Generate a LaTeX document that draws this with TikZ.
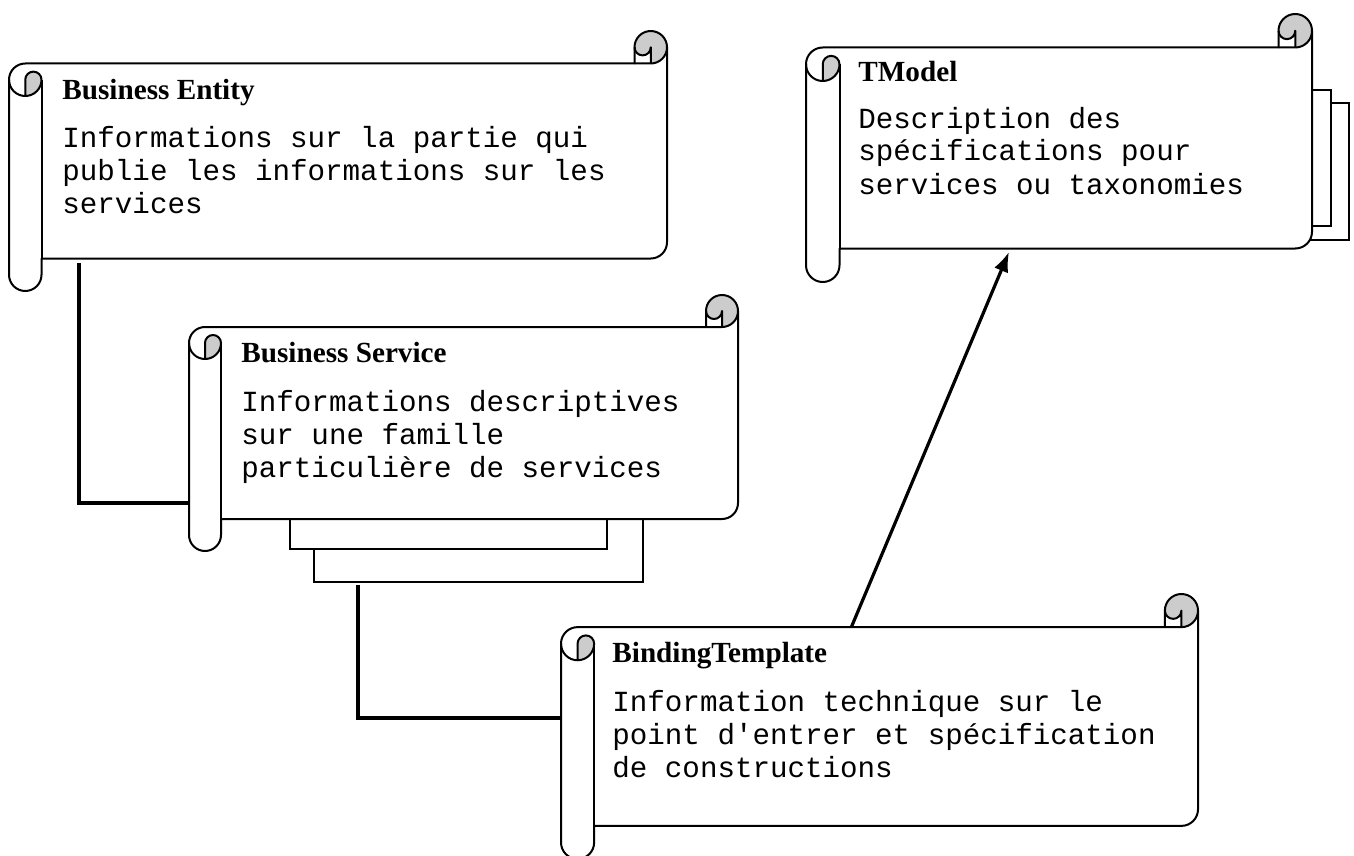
\documentclass[tikz,border=0pt]{standalone}
\usepackage{fontspec}
\setmainfont{Liberation Serif}
\newfontfamily\courierfont{Liberation Mono}
\usetikzlibrary{calc,fit,arrows.meta}

\definecolor{rollgray}{RGB}{204,204,204}

\tikzset{
  scrollline/.style={line width=1pt, line join=round},
  rollshade/.style={fill=rollgray},
  backsheet/.style={draw, fill=white, line width=0.85pt, inner sep=0pt},
  link/.style={line width=1.65pt},
  arrowlink/.style={line width=1.6pt, -{Latex[length=10pt,width=7.5pt]}},
  titletext/.style={font=\fontsize{14.6}{16.5}\selectfont\bfseries, inner sep=0pt, anchor=base west},
  bodytext/.style={font=\fontsize{14.6}{16.5}\selectfont\courierfont, inner sep=0pt, anchor=base west},
}

% scroll: name, left, top, right, bottom (pixels, y going down)
\newcommand{\scrollshape}[5]{%
  \pgfmathsetmacro{\ch}{0.125*(#5-#3)}%
  \pgfmathsetmacro{\hr}{\ch/2}%
  \pgfmathsetmacro{\qr}{\ch/4}%
  \def\scrollpath{(#2,#3+\ch+\hr) arc (180:270:\hr) -- (#4-\ch,#3+\ch) -- (#4-\ch,#3+\hr)
    arc (180:360:\hr) -- (#4,#5-\ch-\hr) arc (0:90:\hr) -- (#2+\ch,#5-\ch) -- (#2+\ch,#5-\hr)
    arc (0:180:\hr) -- cycle}%
  \fill[white] \scrollpath;
  \fill[rollshade] (#2+\hr,#3+2*\ch) arc (90:0:\hr) arc (0:-180:\qr) -- cycle; % left curl
  \fill[rollshade] (#4-\hr,#3+\ch) arc (90:-180:\hr) arc (180:0:\qr) -- cycle; % right curl
  \draw[scrollline] \scrollpath;
  \draw[scrollline] (#4-\ch,#3+\ch) -- (#4-\hr,#3+\ch) arc (90:0:\hr);
  \draw[scrollline] (#4-\hr,#3+\ch) -- (#4-\hr,#3+\hr) arc (0:180:\qr);
  \draw[scrollline] (#2+\hr,#3+2*\ch) -- (#2+\hr,#3+\ch+\hr) arc (180:360:\qr) arc (0:180:\hr);
  \draw[scrollline] (#2+\ch,#3+\ch+\hr) -- (#2+\ch,#5-\ch);
  \pgfmathsetmacro{\bw}{(#4-#2)/2}%
  \pgfmathsetmacro{\bh}{(#5-#3-2*\ch)/2}%
  \node[inner sep=0pt, minimum width=\bw pt, minimum height=\bh pt] (#1) at ({(#2+#4)/2},{(#3+#5)/2}) {};
}

\begin{document}
\begin{tikzpicture}[x=0.5pt, y=-0.5pt]
\useasboundingbox (0,0) rectangle (1354,856);

% business entity
\scrollshape{be}{9}{31}{667}{291}
\node[titletext] (be-title) at (62,100) {Business Entity};
\node[bodytext] (be-text) at (62,148) {\begin{tabular}[t]{@{}l@{}}Informations sur la partie qui\\publie les informations sur les\\services\end{tabular}};

% business service, with the sheets behind it
\node[backsheet, fit={(314,470) (643,582)}] (bs-back2) {};
\node[backsheet, fit={(290,470) (607,549)}] (bs-back1) {};
\scrollshape{bs}{189}{295}{738}{551}
\node[titletext] (bs-title) at (241,362) {Business Service};
\node[bodytext] (bs-text) at (241,411) {\begin{tabular}[t]{@{}l@{}}Informations descriptives\\sur une famille\\particulière de services\end{tabular}};

% binding template
\scrollshape{bt}{561}{594}{1198}{859}
\node[titletext] (bt-title) at (612,662) {BindingTemplate};
\node[bodytext] (bt-text) at (612,711) {\begin{tabular}[t]{@{}l@{}}Information technique sur le\\point d'entrer et spécification\\de constructions\end{tabular}};

% tmodel, with the sheets behind it
\node[backsheet, fit={(1200,103) (1349,240)}] (tm-back2) {};
\node[backsheet, fit={(1200,90) (1331,226)}] (tm-back1) {};
\scrollshape{tm}{806}{14}{1312}{282}
\node[titletext] (tm-title) at (858,82) {TModel};
\node[bodytext] (tm-text) at (858,128) {\begin{tabular}[t]{@{}l@{}}Description des\\spécifications pour\\services ou taxonomies\end{tabular}};

% links
\coordinate (k1) at (79,503);
\coordinate (k2) at (358,718);
\draw[link] ($(be.south -| k1)+(0,4)$) -- (k1) -- (k1 -| bs.west);
\draw[link] ($(bs-back2.south -| k2)+(0,2)$) -- (k2) -- (k2 -| bt.west);
\draw[arrowlink] ($(bt.north)+(-28,0)$) -- ($(tm.south)+(-50,3)$);
\end{tikzpicture}
\end{document}
